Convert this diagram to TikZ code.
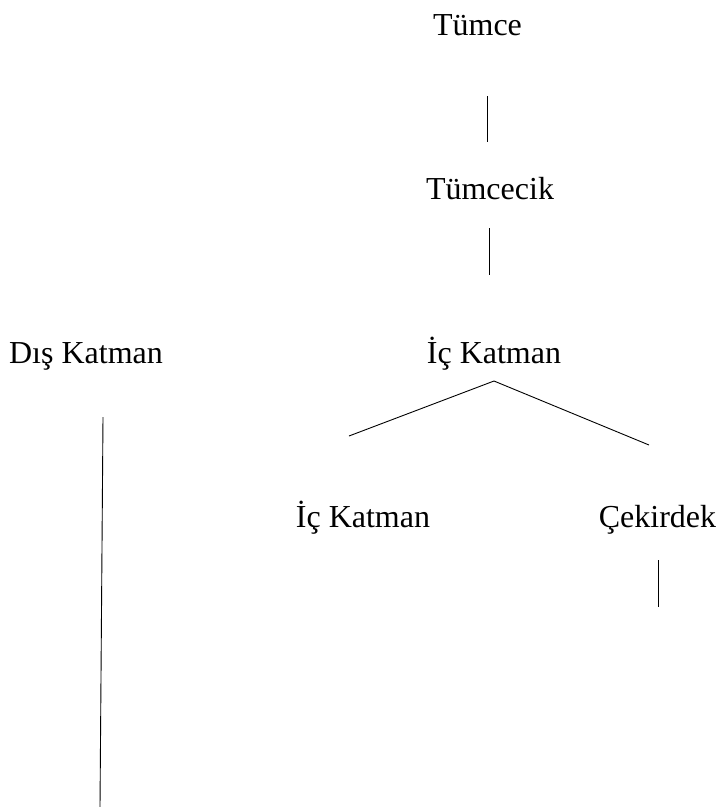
\documentclass[tikz,border=0pt]{standalone}
\usepackage{fontspec}
\setmainfont{Liberation Serif}
\usetikzlibrary{calc}
\begin{document}
\begin{tikzpicture}[x=1pt,y=-1pt,
  lbl/.style={anchor=base,inner sep=0pt,font=\fontsize{32}{38}\selectfont},
  edge/.style={draw=black,line width=0.9pt}]
\useasboundingbox (0,0) rectangle (718,807);
\node[lbl] (tumce) at (477.5,35) {Tümce};
\node[lbl] (tumcecik) at (490,199) {Tümcecik};
\node[lbl] (dis) at (86,363) {Dış Katman};
\node[lbl] (ic) at (494,363) {İç Katman};
\node[lbl] (ic2) at (363,527) {İç Katman};
\node[lbl] (cek) at (657.5,527) {Çekirdek};
\coordinate (disend) at (100,807);
\coordinate (cekend) at (658,607);
\draw[edge] ($(tumce.base)+(9.5,61)$) -- ($(tumcecik.base)+(-3,-57)$);
\draw[edge] ($(tumcecik.base)+(-1,29)$) -- ($(ic.base)+(-5,-88)$);
\draw[edge] ($(ic2.base)+(-14,-91)$) -- ($(ic.base)+(0,18)$) -- ($(cek.base)+(-8.5,-82)$);
\draw[edge] ($(cek.base)+(0.5,33)$) -- (cekend);
\draw[edge] ($(dis.base)+(17,54)$) -- (disend);
\end{tikzpicture}
\end{document}
